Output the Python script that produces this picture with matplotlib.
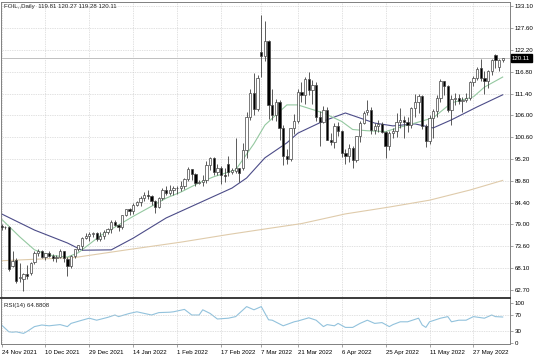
import numpy as np
import matplotlib.pyplot as plt
from matplotlib.transforms import blended_transform_factory

# daily bars (index 0 = 24 Nov 2021)
opens = [78.5, 78.3, 78.4, 68.6, 70.2, 65.8, 65.6, 66.7, 67.0, 69.6,
         72.0, 72.5, 70.9, 71.8, 71.2, 70.6, 71.0, 72.3, 70.4, 68.6,
         71.1, 72.9, 73.6, 75.6, 76.1, 76.5, 76.8, 75.4, 76.2, 77.2,
         77.9, 79.6, 78.8, 78.3, 81.3, 82.7, 82.2, 83.9, 84.5, 85.6,
         86.4, 86.0, 84.8, 83.4, 85.6, 87.4, 86.7, 87.6, 88.0, 87.9,
         88.4, 90.3, 92.6, 91.6, 89.3, 89.6, 90.0, 93.8, 95.4, 91.9,
         92.9, 91.2, 93.9, 92.0, 92.3, 92.9, 93.0, 97.5, 105.5, 111.6,
         107.5, 121.8, 120.6, 124.4, 108.5, 106.2, 109.3, 102.8, 96.0, 95.2,
         102.9, 104.6, 111.8, 111.0, 114.9, 112.4, 113.6, 105.5, 104.3, 107.4,
         100.0, 99.4, 103.4, 102.2, 96.6, 96.0, 97.9, 95.0, 100.9, 104.2,
         106.8, 107.4, 102.4, 103.3, 103.9, 101.8, 98.3, 101.6, 102.2, 104.3,
         104.9, 104.4, 103.5, 107.8, 109.4, 110.8, 103.4, 99.6, 105.4, 107.0,
         110.2, 114.4, 113.3, 107.4, 110.0, 110.4, 109.5, 109.8, 110.4, 114.2,
         115.3, 117.8, 115.2, 114.6, 117.0, 121.0, 117.9, 119.81]
highs = [79.0, 78.6, 78.5, 72.3, 70.6, 69.4, 67.0, 69.0, 69.8, 72.3,
         73.0, 72.6, 72.0, 72.5, 71.6, 71.4, 72.8, 72.4, 70.9, 71.3,
         73.0, 74.0, 75.9, 76.8, 77.0, 77.2, 77.1, 77.0, 77.6, 78.2,
         80.2, 80.1, 79.0, 81.4, 82.9, 83.0, 84.2, 84.8, 86.0, 87.0,
         87.6, 86.4, 85.0, 85.8, 87.9, 88.5, 88.8, 88.4, 88.5, 89.7,
         90.4, 93.2, 92.7, 91.7, 90.0, 91.2, 94.7, 95.8, 95.6, 93.9,
         93.5, 92.9, 96.0, 93.0, 100.5, 93.0, 99.1, 106.8, 112.5, 116.6,
         116.0, 130.9, 129.4, 124.8, 112.5, 110.0, 109.8, 103.5, 97.8, 103.0,
         106.3, 112.6, 114.3, 115.4, 116.8, 114.8, 114.3, 107.0, 108.3, 108.0,
         101.6, 104.0, 104.3, 102.5, 97.7, 98.8, 98.3, 101.0, 104.6, 107.0,
         109.8, 108.0, 104.2, 104.8, 104.4, 102.2, 102.2, 103.0, 106.5, 107.9,
         105.8, 105.6, 108.0, 111.4, 111.2, 111.0, 103.8, 106.0, 107.6, 111.0,
         114.9, 114.6, 113.5, 111.0, 111.5, 111.3, 110.5, 111.5, 114.5, 115.8,
         118.0, 120.0, 117.1, 117.3, 120.0, 121.3, 120.0, 120.27]
lows = [77.6, 77.9, 67.4, 68.4, 64.4, 64.7, 62.5, 65.5, 66.5, 69.3,
        71.2, 70.6, 70.3, 70.9, 69.9, 69.6, 70.7, 69.7, 66.1, 68.2,
        70.7, 72.3, 72.6, 75.4, 75.0, 75.9, 74.9, 74.8, 75.5, 76.5,
        76.8, 78.5, 77.3, 77.9, 81.0, 81.4, 81.5, 83.5, 83.5, 84.8,
        85.3, 83.7, 81.9, 83.0, 85.0, 86.3, 86.2, 86.2, 86.6, 87.3,
        87.8, 89.7, 90.0, 88.4, 88.9, 88.6, 89.2, 92.5, 91.3, 91.2,
        88.9, 89.6, 91.0, 91.5, 91.8, 89.5, 92.5, 95.5, 104.8, 106.0,
        107.0, 115.5, 119.5, 105.0, 104.8, 104.5, 99.8, 93.6, 94.0, 94.6,
        101.5, 104.0, 109.4, 108.8, 111.0, 108.9, 104.5, 98.4, 104.0, 99.9,
        98.6, 97.9, 100.8, 95.7, 94.0, 94.4, 92.9, 94.5, 99.5, 103.8,
        106.0, 101.3, 101.5, 101.9, 101.7, 95.4, 97.5, 100.4, 100.6, 103.0,
        100.3, 101.8, 102.8, 105.6, 106.5, 102.6, 98.2, 98.9, 100.5, 105.5,
        109.2, 111.0, 106.8, 103.5, 108.5, 108.9, 106.9, 109.3, 109.9, 113.2,
        114.8, 114.4, 111.4, 112.7, 116.0, 117.7, 117.0, 119.28]
closes = [78.3, 78.4, 68.0, 70.0, 65.0, 66.0, 66.6, 66.3, 69.5, 72.0,
          72.5, 70.9, 71.8, 71.2, 70.6, 71.0, 72.4, 70.6, 68.6, 71.1,
          72.9, 73.8, 75.6, 76.1, 76.5, 76.8, 75.4, 76.2, 77.2, 77.9,
          79.6, 78.8, 78.3, 81.3, 82.7, 82.2, 83.9, 84.5, 85.6, 86.4,
          86.0, 84.8, 83.4, 85.6, 87.4, 86.7, 87.6, 88.0, 87.9, 88.4,
          90.3, 92.6, 91.6, 89.3, 89.6, 90.0, 93.8, 95.4, 91.9, 92.9,
          91.2, 91.0, 92.0, 92.5, 92.9, 91.8, 97.5, 105.5, 111.6, 107.5,
          115.3, 120.6, 124.4, 108.5, 106.2, 109.3, 102.8, 96.0, 95.2, 102.9,
          104.6, 111.8, 111.0, 114.9, 112.4, 113.6, 105.5, 104.3, 107.4, 100.0,
          99.4, 103.4, 102.2, 96.6, 96.0, 97.9, 95.0, 100.9, 104.2, 106.6,
          107.4, 102.4, 103.3, 103.9, 102.0, 98.3, 101.6, 102.2, 104.3, 104.9,
          104.4, 103.5, 107.8, 109.4, 110.8, 103.4, 99.6, 105.4, 107.0, 110.2,
          114.4, 113.3, 107.4, 110.0, 110.4, 109.5, 109.8, 110.4, 114.2, 115.3,
          117.4, 115.2, 114.6, 117.0, 119.6, 119.7, 119.8, 120.11]

# moving averages (sampled off the chart)
fast_idx = [0, 5, 9, 13, 18, 21, 27, 36, 45, 49, 54, 58, 64, 69, 72, 78, 81, 88,
            93, 96, 100, 105, 109, 113, 118, 123, 129, 132, 137]
fast_val = [80.3, 75.9, 72.7, 71.4, 70.9, 72.0, 76.2, 81.0, 85.5, 87.0, 89.3, 90.8,
            92.5, 99.0, 103.6, 108.6, 108.6, 106.6, 104.5, 102.5, 102.2, 102.0,
            103.1, 104.1, 105.4, 109.1, 110.6, 113.0, 115.5]
slow_idx = [0, 9, 18, 22, 30, 36, 45, 54, 63, 67, 72, 78, 81, 88, 94, 102, 107,
            113, 118, 123, 130, 137]
slow_val = [81.6, 77.6, 74.4, 72.6, 72.7, 75.6, 80.6, 84.3, 88.0, 90.5, 95.5, 99.2,
            101.6, 104.6, 106.6, 104.1, 103.4, 103.9, 102.9, 104.9, 108.1, 111.1]
long_idx = [0, 20, 35, 49, 62, 73, 82, 94, 106, 117, 128, 137]
long_val = [70.0, 70.8, 72.8, 74.6, 76.5, 78.0, 79.2, 81.6, 83.3, 85.0, 87.5, 89.9]

rsi_idx = [0, 2, 3, 4, 6, 7, 9, 11, 13, 16, 18, 19, 22, 24, 26, 29, 31, 32, 35, 37,
           39, 41, 43, 46, 47, 50, 52, 54, 55, 57, 59, 62, 64, 67, 69, 71, 73, 74,
           77, 80, 81, 84, 86, 88, 89, 91, 92, 94, 96, 98, 100, 102, 104, 106, 107,
           109, 111, 114, 115, 116, 117, 120, 122, 123, 125, 127, 129, 132, 134,
           135, 137]
rsi_val = [45, 28, 27, 28, 24, 29, 41, 45, 43, 46, 41, 49, 57, 62, 57, 64, 70, 66, 74,
           78, 74, 70, 76, 77, 78, 84, 70, 70, 83, 74, 60, 62, 66, 91, 83, 91, 58, 57,
           43, 53, 55, 63, 57, 41, 46, 43, 49, 39, 39, 49, 57, 49, 51, 41, 46, 53, 53,
           62, 45, 39, 53, 62, 66, 53, 57, 57, 66, 62, 70, 66, 65]

date_idx = [0, 12, 24, 36, 48, 60, 71, 81, 93, 105, 117, 129]
date_labels = ['24 Nov 2021', '10 Dec 2021', '29 Dec 2021', '14 Jan 2022',
               '1 Feb 2022', '17 Feb 2022', '7 Mar 2022', '21 Mar 2022',
               '6 Apr 2022', '25 Apr 2022', '11 May 2022', '27 May 2022']
price_ticks = [133.10, 127.60, 122.20, 116.80, 111.40, 106.00, 100.60,
               95.20, 89.80, 84.40, 79.00, 73.60, 68.10, 62.70]
rsi_ticks = [0, 30, 70, 100]
last_price = 120.11

plt.rcParams['font.family'] = ['Liberation Sans', 'DejaVu Sans']
fs = 4.4
grid_kw = dict(color='#c4c4c4', linestyle=(0, (1, 1.5)), linewidth=0.5)

W, H = 536, 357
fig = plt.figure(figsize=(W / 100, H / 100), dpi=100)
ax = fig.add_axes([1 / W, 1 - 298 / H, 509 / W, 296 / H])
ax2 = fig.add_axes([1 / W, 1 - 344 / H, 509 / W, 46 / H])

idx = np.arange(len(closes))
o = np.array(opens)
c = np.array(closes)
up = c >= o

# candles
ax.vlines(idx, lows, highs, color='#404040', linewidth=0.6, zorder=3)
body_lo = np.minimum(o, c)
body_h = np.maximum(np.abs(c - o), 0.15)
ax.bar(idx, body_h, bottom=body_lo, width=0.62,
       color=np.where(up, 'white', 'black'), edgecolor='#454545',
       linewidth=0.5, zorder=4)

ax.plot(long_idx, long_val, color='#dfcbab', linewidth=0.8, zorder=2)
ax.plot(slow_idx, slow_val, color='#4c4c88', linewidth=0.8, zorder=2)
ax.plot(fast_idx, fast_val, color='#94c8a0', linewidth=0.8, zorder=2)

ax.axhline(last_price, color='#c0c0c0', linewidth=0.7, zorder=1)

x_lo, x_hi = -0.15, 139.0
ax.set_xlim(x_lo, x_hi)
ax.set_ylim(60.77, 134.09)
ax.set_yticks(price_ticks)
ax.set_yticklabels(['%.2f' % p for p in price_ticks])
ax.set_xticks(date_idx)
ax.tick_params(axis='x', length=0, labelbottom=False)
ax.yaxis.tick_right()
ax.tick_params(axis='y', length=2, width=0.5, color='#808080', labelsize=fs, pad=1.5)
ax.grid(True, **grid_kw)
ax.set_axisbelow(True)

tr = blended_transform_factory(ax.transAxes, ax.transData)
ax.text(1.004, last_price, '%.2f' % last_price, transform=tr, fontsize=fs,
        color='white', va='center', ha='left',
        bbox=dict(boxstyle='square,pad=0.25', facecolor='black', edgecolor='black'))
ax.text(0.006, 0.992, 'FOIL,,Daily  119.81 120.27 119.28 120.11', transform=ax.transAxes,
        fontsize=fs, va='top', ha='left', color='#202020')

# RSI pane
ax2.plot(rsi_idx, rsi_val, color='#92c2dc', linewidth=0.8)
ax2.set_xlim(x_lo, x_hi)
ax2.set_ylim(-2.5, 112.5)
ax2.set_yticks(rsi_ticks)
ax2.yaxis.tick_right()
ax2.tick_params(axis='y', length=2, width=0.5, color='#808080', labelsize=fs, pad=1.5)
ax2.set_xticks(date_idx)
ax2.set_xticklabels(date_labels, ha='left')
ax2.tick_params(axis='x', length=2, width=0.5, color='#808080', labelsize=fs, pad=2)
ax2.grid(True, axis='x', **grid_kw)
for lvl in (30, 70):
    ax2.axhline(lvl, **grid_kw)
ax2.text(0.006, 0.9, 'RSI(14) 64.8808', transform=ax2.transAxes,
         fontsize=fs, va='top', ha='left', color='#202020')

for a in (ax, ax2):
    for s in a.spines.values():
        s.set_color('#808080')
        s.set_linewidth(0.7)
ax.spines['bottom'].set_visible(False)
ax2.spines['top'].set_color('#3a3a3a')
ax2.spines['top'].set_linewidth(1.4)

fig.savefig('out.png', dpi=100)
